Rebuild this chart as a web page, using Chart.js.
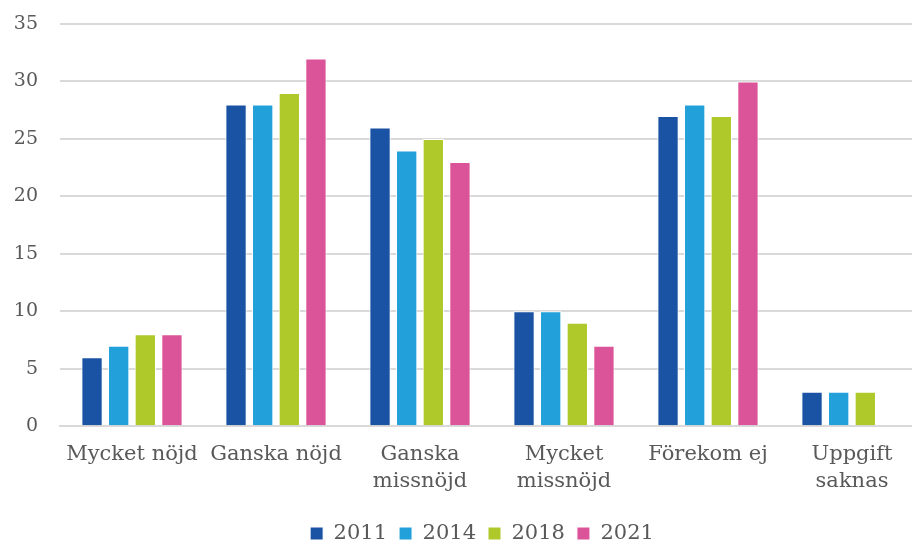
<!DOCTYPE html>
<html>
<head>
<meta charset="utf-8">
<script src="https://cdn.jsdelivr.net/npm/chart.js@4/dist/chart.umd.min.js"></script>
<style>
  html, body { margin: 0; padding: 0; background: #fff; overflow: hidden; }
  #wrap { width: 950px; height: 543px; position: relative; }
</style>
</head>
<body>
<div id="wrap"><canvas id="chart"></canvas></div>
<script>
  var categories = [
    'Mycket nöjd',
    'Ganska nöjd',
    ['Ganska', 'missnöjd'],
    ['Mycket', 'missnöjd'],
    'Förekom ej',
    ['Uppgift', 'saknas']
  ];
  var years = ['2011', '2014', '2018', '2021'];
  var values2011 = [6, 28, 26, 10, 27, 3];
  var values2014 = [7, 28, 24, 10, 28, 3];
  var values2018 = [8, 29, 25, 9, 27, 3];
  var values2021 = [8, 32, 23, 7, 30, null];
  var colors = ['#1a52a4', '#21a0da', '#b0c92a', '#db5499'];

  var series = [values2011, values2014, values2018, values2021];
  var font = "'DejaVu Serif', 'Liberation Serif', serif";
  var textColor = '#595959';

  // nudge the legend a bit right, the original chart was wider than the crop
  var legendShift = {
    id: 'legendShift',
    afterLayout: function (chart) {
      chart.legend.left += 20;
      chart.legend.right += 20;
    }
  };

  var ctx = document.getElementById('chart').getContext('2d');
  new Chart(ctx, {
    type: 'bar',
    data: {
      labels: categories,
      datasets: series.map(function (vals, i) {
        return {
          label: years[i],
          data: vals,
          backgroundColor: colors[i],
          borderColor: '#ffffff',
          borderWidth: 1
        };
      })
    },
    plugins: [legendShift],
    options: {
      responsive: true,
      maintainAspectRatio: false,
      animation: false,
      layout: { padding: { top: 24, right: 26, bottom: -11, left: 0 } },
      datasets: { bar: { categoryPercentage: 0.74, barPercentage: 0.8 } },
      plugins: {
        legend: {
          position: 'bottom',
          labels: {
            boxWidth: 13, boxHeight: 13, padding: 12,
            color: textColor,
            font: { family: font, size: 21 }
          }
        },
        tooltip: { enabled: false }
      },
      scales: {
        x: {
          afterFit: function (scale) { scale.height += 9; },
          grid: { display: false },
          border: { color: '#d9d9d9', width: 2 },
          ticks: {
            color: textColor, maxRotation: 0, autoSkip: false, padding: 6,
            font: { family: font, size: 21, lineHeight: 1.33 }
          }
        },
        y: {
          min: 0, max: 35,
          afterFit: function (scale) {
            scale.width = 60;
            scale.paddingTop = 0;
          },
          grid: { color: '#d9d9d9', lineWidth: 2, drawTicks: false },
          border: { display: false },
          ticks: {
            stepSize: 5, padding: 22, color: textColor,
            font: { family: font, size: 19 }
          }
        }
      }
    }
  });
</script>
</body>
</html>
